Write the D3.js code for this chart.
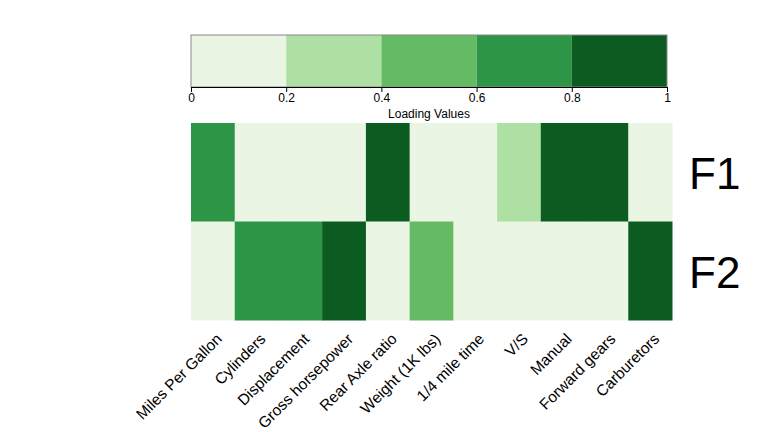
<!DOCTYPE html>
<html lang="en">
<head>
<meta charset="UTF-8">
<title>Factor Loadings</title>
<script src="https://d3js.org/d3.v7.min.js"></script>
<style>
    body { margin: 0; background: #fff; }
    text { font-family: "Liberation Sans", Arial, sans-serif; fill: #000; }
</style>
</head>
<body>
<svg id="chart" width="768" height="432"></svg>
<script>
    const variables = ["Miles Per Gallon", "Cylinders", "Displacement", "Gross horsepower",
        "Rear Axle ratio", "Weight (1K lbs)", "1/4 mile time", "V/S", "Manual",
        "Forward gears", "Carburetors"];
    const factors = ["F1", "F2"];
    const f1 = [0.7, 0.1, 0.1, 0.1, 0.9, 0.1, 0.1, 0.3, 0.9, 0.9, 0.1];
    const f2 = [0.1, 0.7, 0.7, 0.9, 0.1, 0.5, 0.1, 0.1, 0.1, 0.1, 0.9];
    const binEdges = [0, 0.2, 0.4, 0.6, 0.8, 1];
    const binColors = ["#eaf5e4", "#aedfa3", "#65bb63", "#2d9646", "#0c5c22"];

    const svg = d3.select("#chart");

    // colour scale: 5 discrete bins
    const color = d3.scaleThreshold()
        .domain(binEdges.slice(1, -1))
        .range(binColors);

    // colour bar
    const cb = { x0: 191, x1: 667, y0: 35, y1: 87 };
    const cbx = d3.scaleLinear().domain([0, 1]).range([cb.x0, cb.x1]);
    const gcb = svg.append("g");
    gcb.selectAll("rect")
        .data(d3.pairs(binEdges))
        .enter().append("rect")
        .attr("x", d => cbx(d[0]))
        .attr("y", cb.y0)
        .attr("width", d => cbx(d[1]) - cbx(d[0]))
        .attr("height", cb.y1 - cb.y0)
        .attr("fill", (d, i) => binColors[i]);
    gcb.append("rect")
        .attr("x", cb.x0).attr("y", cb.y0)
        .attr("width", cb.x1 - cb.x0).attr("height", cb.y1 - cb.y0)
        .attr("fill", "none").attr("stroke", "#888").attr("stroke-width", 1);
    const axis = gcb.append("g")
        .attr("transform", `translate(0,${cb.y1})`)
        .call(d3.axisBottom(cbx).tickValues(binEdges).tickFormat(d3.format("~g")).tickSize(5).tickSizeOuter(0));
    axis.select(".domain").attr("stroke", "#000");
    axis.selectAll("text").attr("font-size", 12).attr("font-family", "Liberation Sans, Arial, sans-serif").attr("fill", "#000").attr("dy", "0.6em");
    gcb.append("text")
        .attr("x", (cb.x0 + cb.x1) / 2)
        .attr("y", 118)
        .attr("text-anchor", "middle")
        .attr("font-size", 12)
        .text("Loading Values");

    // heatmap
    const hm = { x0: 191, x1: 672, y0: 123, y1: 320 };
    const x = d3.scaleBand().domain(variables).range([hm.x0, hm.x1]);
    const y = d3.scaleBand().domain(factors).range([hm.y0, hm.y1]);
    const cells = [];
    variables.forEach((v, i) => {
        cells.push({ v: v, f: "F1", val: f1[i] });
        cells.push({ v: v, f: "F2", val: f2[i] });
    });
    svg.append("g").selectAll("rect")
        .data(cells)
        .enter().append("rect")
        .attr("x", d => x(d.v))
        .attr("y", d => y(d.f))
        .attr("width", x.bandwidth() + 0.5)
        .attr("height", y.bandwidth() + 0.5)
        .attr("fill", d => color(d.val));

    // row labels
    svg.append("g").selectAll("text")
        .data(factors)
        .enter().append("text")
        .attr("x", 689)
        .attr("y", d => y(d) + y.bandwidth() / 2 + 17)
        .attr("font-size", 44)
        .text(d => d);

    // column labels
    svg.append("g").selectAll("text")
        .data(variables)
        .enter().append("text")
        .attr("transform", d => `translate(${x(d) + x.bandwidth() / 2 + 10},${hm.y1 + 20}) rotate(-45)`)
        .attr("text-anchor", "end")
        .attr("font-size", 15.5)
        .text(d => d);
</script>
</body>
</html>
